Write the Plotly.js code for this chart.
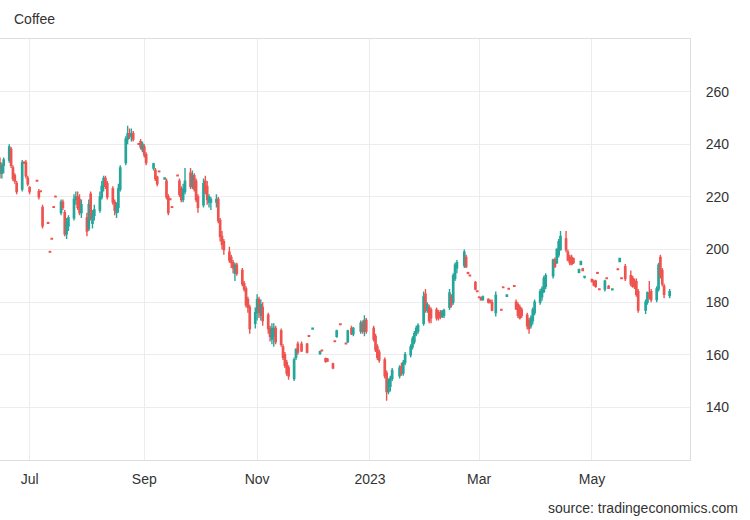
<!DOCTYPE html>
<html><head><meta charset="utf-8">
<script src="https://cdn.plot.ly/plotly-3.0.1.min.js"></script>
<style>html,body{margin:0;padding:0;background:#fff}#chart{width:750px;height:520px}</style>
</head><body><div id="chart"></div>
<script>
const dates = ['2022-06-13','2022-06-14','2022-06-15','2022-06-16','2022-06-17','2022-06-20','2022-06-21','2022-06-22','2022-06-23','2022-06-24',
'2022-06-27','2022-06-28','2022-06-29','2022-06-30','2022-07-01','2022-07-05','2022-07-06','2022-07-07','2022-07-08','2022-07-11',
'2022-07-12','2022-07-13','2022-07-14','2022-07-15','2022-07-18','2022-07-19','2022-07-20','2022-07-21','2022-07-22','2022-07-25',
'2022-07-26','2022-07-27','2022-07-28','2022-07-29','2022-08-01','2022-08-02','2022-08-03','2022-08-04','2022-08-05','2022-08-08',
'2022-08-09','2022-08-10','2022-08-11','2022-08-12','2022-08-15','2022-08-16','2022-08-17','2022-08-18','2022-08-19','2022-08-22',
'2022-08-23','2022-08-24','2022-08-25','2022-08-26','2022-08-29','2022-08-30','2022-08-31','2022-09-01','2022-09-02','2022-09-06',
'2022-09-07','2022-09-08','2022-09-09','2022-09-12','2022-09-13','2022-09-14','2022-09-15','2022-09-16','2022-09-19','2022-09-20',
'2022-09-21','2022-09-22','2022-09-23','2022-09-26','2022-09-27','2022-09-28','2022-09-29','2022-09-30','2022-10-03','2022-10-04',
'2022-10-05','2022-10-06','2022-10-07','2022-10-10','2022-10-11','2022-10-12','2022-10-13','2022-10-14','2022-10-17','2022-10-18',
'2022-10-19','2022-10-20','2022-10-21','2022-10-24','2022-10-25','2022-10-26','2022-10-27','2022-10-28','2022-10-31','2022-11-01',
'2022-11-02','2022-11-03','2022-11-04','2022-11-07','2022-11-08','2022-11-09','2022-11-10','2022-11-11','2022-11-14','2022-11-15',
'2022-11-16','2022-11-17','2022-11-18','2022-11-21','2022-11-22','2022-11-23','2022-11-25','2022-11-28','2022-11-29','2022-12-01',
'2022-12-05','2022-12-06','2022-12-08','2022-12-09','2022-12-12','2022-12-13','2022-12-14','2022-12-16','2022-12-19','2022-12-20',
'2022-12-22','2022-12-23','2022-12-27','2022-12-28','2022-12-29','2022-12-30','2023-01-03','2023-01-04','2023-01-05','2023-01-06',
'2023-01-09','2023-01-10','2023-01-11','2023-01-12','2023-01-13','2023-01-17','2023-01-18','2023-01-19','2023-01-20','2023-01-23',
'2023-01-24','2023-01-25','2023-01-26','2023-01-27','2023-01-30','2023-01-31','2023-02-01','2023-02-02','2023-02-03','2023-02-06',
'2023-02-07','2023-02-08','2023-02-09','2023-02-10','2023-02-13','2023-02-14','2023-02-15','2023-02-16','2023-02-17','2023-02-21',
'2023-02-22','2023-02-23','2023-02-24','2023-02-27','2023-02-28','2023-03-01','2023-03-02','2023-03-03','2023-03-06','2023-03-07',
'2023-03-08','2023-03-10','2023-03-13','2023-03-14','2023-03-16','2023-03-17','2023-03-20','2023-03-21','2023-03-22','2023-03-23',
'2023-03-24','2023-03-27','2023-03-28','2023-03-29','2023-03-30','2023-03-31','2023-04-03','2023-04-04','2023-04-05','2023-04-06',
'2023-04-10','2023-04-11','2023-04-12','2023-04-13','2023-04-14','2023-04-17','2023-04-18','2023-04-19','2023-04-20','2023-04-21',
'2023-04-24','2023-04-25','2023-04-26','2023-04-27','2023-05-01','2023-05-02','2023-05-03','2023-05-04','2023-05-05','2023-05-08',
'2023-05-09','2023-05-10','2023-05-12','2023-05-15','2023-05-16','2023-05-17','2023-05-19','2023-05-22','2023-05-23','2023-05-24',
'2023-05-25','2023-05-26','2023-05-30','2023-05-31','2023-06-01','2023-06-02','2023-06-05','2023-06-06','2023-06-07','2023-06-08',
'2023-06-09','2023-06-12'];

const openP = [234,231,233,229,232,234,238,231,228,225,
223,233.2,233,227,223.5,226.2,222,222.2,216,210.2,
199.2,204.2,216.2,220.2,214,218,214,206,209,212,
219,220,219,214,212,208,221,210,213,215,
220,224,227,225,223,218,214,216,223,233,
242,244,243,244,240.2,241,238,239,236,231,
230,227.5,229.8,226.8,226,220,219.2,216.2,228.2,226,
223,219,222,229,224,228,226,220,217,226,
224,218,218,218,219,211,205,203,199,197,
195,191,194,192,187,185,181,178,172,176,
181,175,178,175,170,166,167,170,169,163,
160,157,155,151,159,164,164,164,167.2,169.8,
160.5,161.7,158.5,158.3,156.5,165.2,167,171.7,164.4,165,
170,168,169,172,169,173,170,167,163,161,
158,153,146,148,151,152,155.5,153,157,160,
163,165,168,169,172,183,177,178,177,177,
176,176,174.5,175,178,182,180,189,193,194,
197,191.2,190.2,187.5,184.2,181.9,181.8,181,181,180.5,
179.8,176,177.2,185.7,182.2,185.2,186.2,180,179,178,
177,175,173,171,173,176,180,182,184,186,
190,196,195,198,200,204,199,197,197,196.5,
191.3,194.4,192.6,189.5,188.5,187.8,188,191.2,185,185,
189.2,186,184.7,192.6,195.4,189.2,193.5,190,189,188,
187.8,184,177,180,183,184,181,185,197,192,
186,182.5];

const highP = [236,234,235,233,235,240,239,232,229,226,
234,233.5,234,228,224,226.5,223,222.5,217,210.5,
199.5,204.5,216.5,220.5,219,219,215,212,213,221,
222,222,221,219,214,219,222,215,217,222,
226,228,228,226,224,219,218,225,232,243,
247,246,246,245,240.5,242,241,240,237,233,
231,228,230,227.5,227,221,219.5,216.5,228.5,227,
224,225,231,231,230,229,227,221,227,228,
226,221,220,221,220,212,207,204,201,198,
196,195,195,193,188,186,182,179,178,183,
182,181,180,176,171,172,172,171,170,164,
161,158,156,159,162.5,165,165,164.5,167.5,170.3,
161.5,161.9,159,158.8,157,165.5,169.5,172,164.7,169.5,
171,170.5,173,173,175,174,171,168,164,162,
159,154,151,152,155,156,157,158,161,164,
167,169,171,172,184,185,180,179,178,178,
177,177,177,177.5,185,183,191,195,196,200,
198,191.5,190.5,188,184.5,182.2,182,182.5,181.5,181,
181,184,177.5,186,183,185.5,186.5,181,180,179,
178,176,174,175,178,181,185,186,190,191,
196.5,197,200.5,204,207,207,200,198,198,197,
192.6,195.7,193,190,189,188.5,188.5,191.5,185.3,188.5,
189.5,186.5,185.3,192.9,196.8,189.5,194.5,192,190,189,
189,185,181,184,188,185,186,195,198,193,
187,185];

const lowP = [229,228,227,227,229,233,231,226,225,221,
222,232.5,227,224,221,225.8,219,221.8,208,209.8,
198.8,203.8,215.8,219.8,213,215,205,204,207,211,
217,215,213,212,205,207,211,208,211,214,
219,222,223,219,217,213,212,214,222,232,
240,242,241,241,239.8,238,237,235,232,230,
226,224,229.3,226.5,219,213,218.8,215.8,227.8,220,
218,218,221,223,223,222,218,214,216,221,
217,216,215,216,210,203,200,198,195,193,
191,188,190,186,184,178,176,168,170,173,
174,173,171,168,165,164,163,164,163,158,
155,152,150.5,150,158,160,161,160.5,166.8,169.6,
160,161.3,157,157.2,154.5,164.8,166.5,171.3,164,164.5,
167.5,167,168,168,167,168,165,161,158,157,
151,142.5,145,146,150,151,152,152,156,159,
162,164,167,168,171,176,176,172,172,173,
173,173.5,174,174,177,178,179,188,191,193,
193,190.8,189.8,184.5,183.8,181.5,180.5,180.5,179.5,179.5,
176.5,174.5,176.8,185.3,182,184.8,185.8,177,174,173.4,
174,169.6,168,170,171.5,175,179,180.5,183.5,185,
189,193,194.5,197,199.5,199,195.5,194,194,194.5,
191,194,191.8,189,187.5,186,185.5,190.8,184.6,184,
188.8,185,184.5,192.2,195.3,188.8,188,186,185.5,185,
182,176,175.5,179,181,180,180,184,189,186,
181.5,181.5];

const closeP = [231,229,229,232,234,239,232,227,226,222,
233,233,228,225,222,226,220,222,209,210,
199,204,216,220,218,216,206,210,212,219,
220,216,214,217,207,217,212,213,215,220,
224,227,224,220,218,215,216,223,231,242,
244,243,244,242,240,239,240,236,233,232.5,
227,225,229.6,227.2,220,214,219,216,228,221,
219,223,226,224,228,223,219,216,225,222,
219,220,219,219,211,205,202,200,196,195,
193,194,191,187,185,179,178,170,176,181,
176,179,173,170,167,170,170,165,164,159,
156,153,152,158,162,161,161.5,161,167,170.1,
161.2,161.5,157.5,157.6,155,165,169,171.5,164.2,169,
168,170,172,169,173,169,166,162,159,158,
152,146,150,151,154,155,153,157,160,163,
166,168,170,171,182,177,179,173,174,174,
174,174.5,176.5,176.8,183.5,179,190,194,195,199,
193.5,191,190,185,184,181.7,181,182,180,180,
177,182.5,177,185.5,182.7,185,186,177.5,175,174,
175,171,170,174,177,180,184,185,189,190,
196,193.6,200,203,205,200,196,195,194.5,195,
192.4,195.5,192,189.8,187.8,186.5,186,191,184.8,188,
189,185.3,185,192.4,196.6,189,189,187,186,186,
183,177,180,183.6,182,181,185,194,190,187,
183,184];

const tickDates = ['2022-07-01','2022-09-01','2022-11-01','2023-01-01','2023-03-01','2023-05-01'];
const tickText = ['Jul','Sep','Nov','2023','Mar','May'];
const yTicks = [140,160,180,200,220,240,260];

const up = '#26a69a', down = '#ef5350';
const trace = {
  type: 'candlestick',
  x: dates, open: openP, high: highP, low: lowP, close: closeP,
  increasing: {line: {color: up, width: 1.4}, fillcolor: up},
  decreasing: {line: {color: down, width: 1.4}, fillcolor: down},
  whiskerwidth: 0,
  hoverinfo: 'skip'
};

const layout = {
  width: 750, height: 520,
  margin: {l: 0, r: 60, t: 39, b: 60},
  paper_bgcolor: '#fff', plot_bgcolor: '#fff',
  font: {family: 'Liberation Sans, Arial, sans-serif', size: 14, color: '#333'},
  showlegend: false,
  boxgap: 0,
  title: {text: 'Coffee', x: 14/750, xanchor: 'left', xref: 'container', y: 1 - 19/520, yanchor: 'middle', yref: 'container', font: {size: 14, color: '#333'}},
  xaxis: {type: 'date', range: ['2022-06-15', '2023-06-23'], tickmode: 'array', tickvals: tickDates, ticktext: tickText,
    showgrid: true, gridcolor: '#ececec', showline: true, linecolor: '#dedede', mirror: true,
    ticks: 'outside', ticklen: 6, tickcolor: 'rgba(0,0,0,0)', rangeslider: {visible: false}, zeroline: false, fixedrange: true},
  yaxis: {side: 'right', range: [120, 280], tickmode: 'array', tickvals: yTicks, showgrid: true, gridcolor: '#ececec',
    showline: true, linecolor: '#dedede', ticks: 'outside', ticklen: 12, tickcolor: 'rgba(0,0,0,0)', zeroline: false, fixedrange: true},
  annotations: [{text: 'source: tradingeconomics.com', xref: 'paper', yref: 'paper', x: 740/690, y: (460-508)/421,
    xanchor: 'right', yanchor: 'middle', showarrow: false, font: {size: 14, color: '#333'}}]
};

Plotly.newPlot('chart', [trace], layout, {displayModeBar: false, staticPlot: true});
</script></body></html>
